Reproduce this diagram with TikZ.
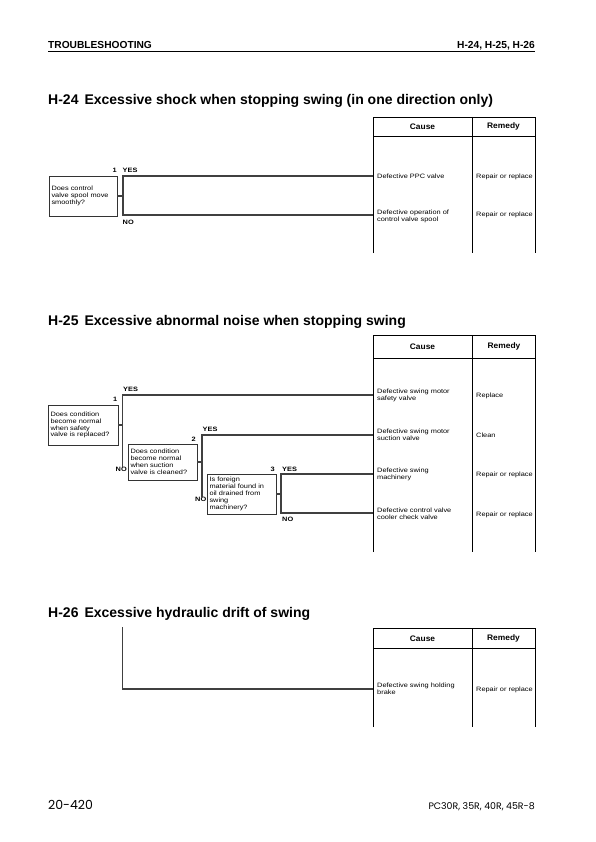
\documentclass[tikz,border=0pt]{standalone}
\usepackage{fontspec}
\setmainfont{Liberation Sans}
\newfontfamily\smfont[FakeStretch=1.17]{Liberation Sans}
\newfontfamily\hdfont[FakeStretch=1.05]{Liberation Sans}
\newfontfamily\footfont{Poppins}
\begin{document}
\begin{tikzpicture}[x=1pt,y=-1pt,
  every node/.style={inner sep=0pt},
  conn/.style={draw=black!75, line width=1.1pt},
  tabline/.style={draw=black, line width=0.8pt},
  qbox/.style={draw=black!80, line width=0.9pt, inner xsep=2.5pt, align=left,
     font=\smfont\fontsize{6.3}{6.9}\selectfont},
  small/.style={font=\smfont\fontsize{6.3}{7}\selectfont, align=left},
  lab/.style={font=\smfont\bfseries\fontsize{6.3}{7}\selectfont},
  colhd/.style={font=\hdfont\bfseries\fontsize{8}{9}\selectfont},
  ttl/.style={font=\bfseries\fontsize{14}{16}\selectfont, anchor=base west},
  pghd/.style={font=\bfseries\fontsize{10.2}{12}\selectfont},
]
\useasboundingbox (0,0) rectangle (596,842);
% header
\node[pghd, anchor=base west] (hl) at (48,48.3) {TROUBLESHOOTING};
\node[pghd, anchor=base east] (hr) at (535,48.3) {H-24, H-25, H-26};
\draw[line width=1pt] (48,51.3) coordinate (hla) -- (535,51.3) coordinate (hlb);

% ===== H-24 =====
\node[ttl] (t24) at (48,104.7) {H-24\hspace{6pt}Excessive shock when stopping swing (in one direction only)};
% table
\draw[tabline] (373,253) -- (373,117) -- (535,117) -- (535,253);
\draw[tabline] (373,136) -- (535,136);
\draw[tabline] (472,117) -- (472,253);
\node[colhd] (ca24) at (422.5,126.8) {Cause};
\node[colhd] (re24) at (503.5,126.8) {Remedy};
\coordinate (e24a) at (373,176);
\coordinate (e24b) at (373,215);
\node[small, anchor=west] (c24a) at (377,176.5) {Defective PPC valve};
\node[small, anchor=west] (r24a) at (476,176.5) {Repair or replace};
\node[small, anchor=west] (c24b) at (377,216) {Defective operation of\\control valve spool};
\node[small, anchor=west] (r24b) at (476,215) {Repair or replace};
% question
\node[qbox, minimum width=68pt, minimum height=40pt, text width=63pt] (q241) at (83,196) {Does control\\valve spool move\\smoothly?};
\coordinate (j241) at (123,196);
\coordinate (j241y) at (123,176);
\coordinate (j241n) at (123,215);
\draw[conn] (q241.east) -- (j241);
\draw[conn] (e24a) -- (j241y) -- (j241n) -- (e24b);
\node[lab, anchor=base east] (n241) at (117,172.7) {1};
\node[lab, anchor=base west] (y241) at (122.5,172.7) {YES};
\node[lab, anchor=base west] (no241) at (122.5,224.3) {NO};

% ===== H-25 =====
\node[ttl] (t25) at (48,325) {H-25\hspace{6pt}Excessive abnormal noise when stopping swing};
\draw[tabline] (373,552) -- (373,335) -- (535.5,335) -- (535.5,552);
\draw[tabline] (373,358) -- (535.5,358);
\draw[tabline] (472.5,335) -- (472.5,552);
\node[colhd] (ca25) at (422.5,346.5) {Cause};
\node[colhd] (re25) at (504,346.5) {Remedy};
\coordinate (e25a) at (373,395);
\coordinate (e25b) at (373,435);
\coordinate (e25c) at (373,474);
\coordinate (e25d) at (373,513);
\node[small, anchor=west] (c25a) at (377,395.5) {Defective swing motor\\safety valve};
\node[small, anchor=west] (r25a) at (476,396) {Replace};
\node[small, anchor=west] (c25b) at (377,435) {Defective swing motor\\suction valve};
\node[small, anchor=west] (r25b) at (476,435.5) {Clean};
\node[small, anchor=west] (c25c) at (377,474.5) {Defective swing\\machinery};
\node[small, anchor=west] (r25c) at (476,475) {Repair or replace};
\node[small, anchor=west] (c25d) at (377,514) {Defective control valve\\cooler check valve};
\node[small, anchor=west] (r25d) at (476,514.5) {Repair or replace};
% questions
\node[qbox, minimum width=70pt, minimum height=40pt, text width=65pt] (q251) at (83,425) {Does condition\\become normal\\when safety\\valve is replaced?};
\node[qbox, minimum width=69pt, minimum height=36pt, text width=64pt] (q252) at (162.5,462) {Does condition\\become normal\\when suction\\valve is cleaned?};
\node[qbox, minimum width=69pt, minimum height=40pt, text width=64pt] (q253) at (241.5,494) {Is foreign\\material found in\\oil drained from\\swing\\machinery?};
% q1 connectors
\coordinate (j251) at (122.5,425);
\coordinate (j251y) at (122.5,395);
\node[lab, anchor=base east] (n251) at (117.5,401.5) {1};
\node[lab, anchor=base west] (y251) at (123,391.5) {YES};
\node[lab, anchor=base east] (no251) at (127,471.7) {NO};
\draw[conn] (q251.east) -- (j251);
\draw[conn] (e25a) -- (j251y) -- (j251y |- no251.north);
% q2 connectors
\coordinate (j252) at (202,462);
\coordinate (j252y) at (202,435);
\node[lab, anchor=base east] (n252) at (196,441.7) {2};
\node[lab, anchor=base west] (y252) at (202.5,431.7) {YES};
\node[lab, anchor=base east] (no252) at (206.5,501.7) {NO};
\draw[conn] (q252.east) -- (j252);
\draw[conn] (e25b) -- (j252y) -- (j252y |- no252.north);
% q3 connectors
\coordinate (j253) at (281,494);
\coordinate (j253y) at (281,474);
\coordinate (j253n) at (281,513);
\node[lab, anchor=base east] (n253) at (275,471) {3};
\node[lab, anchor=base west] (y253) at (282,471) {YES};
\node[lab, anchor=base west] (no253) at (282,521.7) {NO};
\draw[conn] (q253.east) -- (j253);
\draw[conn] (e25c) -- (j253y) -- (j253n) -- (e25d);

% ===== H-26 =====
\node[ttl] (t26) at (48,617) {H-26\hspace{6pt}Excessive hydraulic drift of swing};
\draw[tabline] (373,727) -- (373,628) -- (535,628) -- (535,727);
\draw[tabline] (373,648) -- (535,648);
\draw[tabline] (472,628) -- (472,727);
\node[colhd] (ca26) at (422.5,638.3) {Cause};
\node[colhd] (re26) at (503.5,638.3) {Remedy};
\coordinate (s26) at (122.5,627);
\coordinate (k26) at (122.5,689);
\coordinate (e26) at (373,689);
\draw[conn] (s26) -- (k26) -- (e26);
\node[small, anchor=west] (c26) at (377,689) {Defective swing holding\\brake};
\node[small, anchor=west] (r26) at (476,689.5) {Repair or replace};

% footer
\node[anchor=base west, font=\footfont\fontsize{12.5}{14}\selectfont] (f1) at (48,809) {20-420};
\node[anchor=base east, font=\footfont\fontsize{9.4}{11}\selectfont] (f2) at (535,809) {PC30R, 35R, 40R, 45R-8};
\end{tikzpicture}
\end{document}
